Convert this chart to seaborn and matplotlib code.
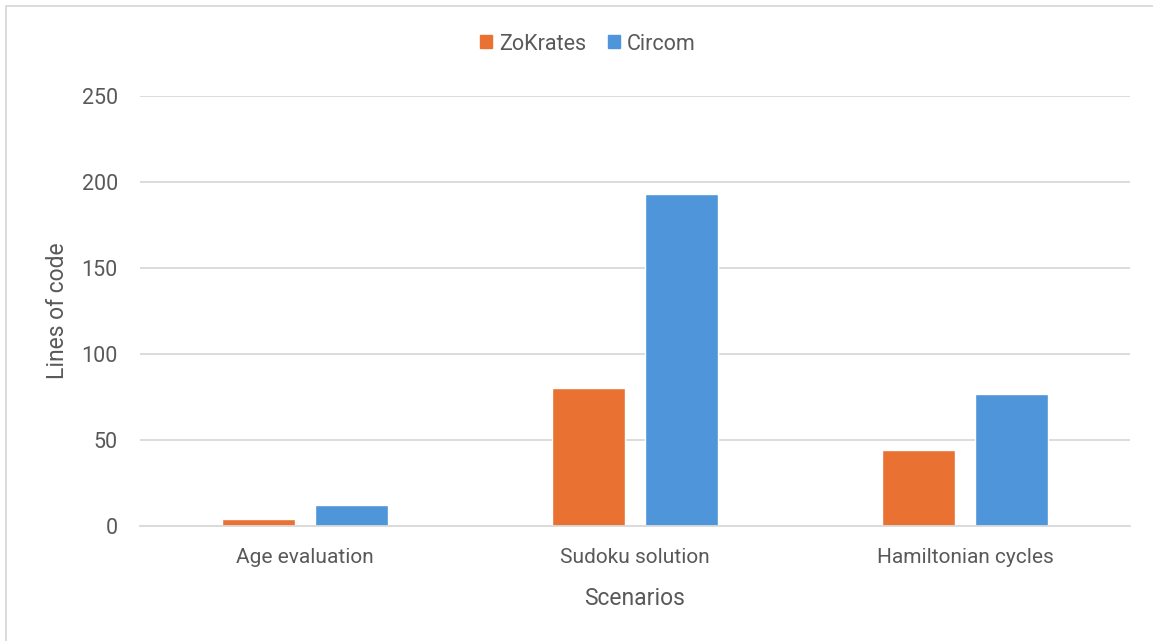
import pandas as pd
import matplotlib.pyplot as plt
import matplotlib.patches as mpatches
import seaborn as sns

# Chart values
scenarios = ['Age evaluation', 'Sudoku solution', 'Hamiltonian cycles']
zokrates_loc = [4, 80, 44]
circom_loc = [12, 193, 77]
series_names = ['ZoKrates', 'Circom']
y_ticks = [0, 50, 100, 150, 200, 250]

colors = {'ZoKrates': '#E97132', 'Circom': '#4E95D9'}
text_color = '#595959'


def build_frame():
    """Long-format table for seaborn."""
    df = pd.DataFrame({
        'Scenario': scenarios * 2,
        'Series': [series_names[0]] * len(scenarios) + [series_names[1]] * len(scenarios),
        'Lines': zokrates_loc + circom_loc,
    })
    return df


def draw(df):
    sns.set_theme(style='white')
    plt.rcParams['font.family'] = ['Roboto', 'DejaVu Sans']

    W, H = 1153, 641
    fig = plt.figure(figsize=(W / 100, H / 100), dpi=100)
    ax = fig.add_axes([140 / W, 1 - 526 / H, 990 / W, 430 / H])

    sns.barplot(data=df, x='Scenario', y='Lines', hue='Series',
                palette=colors, width=0.564, gap=0.215, ax=ax,
                saturation=1, legend=False)

    ax.set_ylim(0, 250)
    ax.set_xlim(-0.5, 2.5)
    ax.set_yticks(y_ticks)
    ax.yaxis.grid(True, color='#D9D9D9', linewidth=1.3)
    ax.set_axisbelow(True)
    for side in ['top', 'right', 'left']:
        ax.spines[side].set_visible(False)
    ax.spines['bottom'].set_color('#D9D9D9')
    ax.spines['bottom'].set_linewidth(1.3)
    ax.tick_params(axis='both', length=0, colors=text_color)
    ax.tick_params(axis='y', labelsize=15.5, pad=16)
    ax.tick_params(axis='x', labelsize=15, pad=16)

    ax.set_xlabel('Scenarios', fontsize=16.5, color=text_color, labelpad=14)
    ax.set_ylabel('')
    fig.text(57 / W, 1 - 311 / H, 'Lines of code', rotation=90, ha='center',
             va='center', fontsize=16.5, color=text_color)

    handles = [mpatches.Patch(color=colors[s], label=s) for s in series_names]
    fig.legend(handles=handles, loc='center', bbox_to_anchor=(588 / W, 1 - 44 / H),
               ncol=2, frameon=False, fontsize=15.5, handlelength=0.55,
               handleheight=0.55, handletextpad=0.33, columnspacing=1.0,
               labelcolor=text_color)

    # thin gray frame (only left and top edges fall inside the picture)
    fig.patches.append(mpatches.Rectangle((6 / W, -0.1), 1.2, 1.1 - 6 / H,
                                          transform=fig.transFigure, fill=False,
                                          edgecolor='#D9D9D9', linewidth=1.3))

    fig.savefig('out.png', dpi=100)


def main():
    df = build_frame()
    draw(df)


if __name__ == "__main__":
    main()
